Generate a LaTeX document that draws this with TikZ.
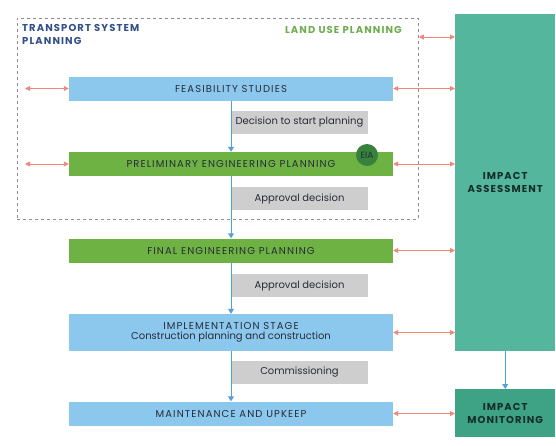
\documentclass[tikz,border=0pt]{standalone}
\usepackage{fontspec}
\setmainfont{Poppins}
\newfontfamily\capsfont[LetterSpace=11]{Poppins}
\usetikzlibrary{arrows.meta}
\definecolor{lblue}{RGB}{140,200,238}
\definecolor{lgreen}{RGB}{110,178,68}
\definecolor{dgreen}{RGB}{55,130,60}
\definecolor{lgray}{RGB}{206,206,206}
\definecolor{teal1}{RGB}{84,182,156}
\definecolor{teal2}{RGB}{62,162,132}
\definecolor{redarr}{RGB}{240,135,125}
\definecolor{bline}{RGB}{85,160,215}
\definecolor{tspblue}{RGB}{50,80,135}
\definecolor{lugreen}{RGB}{110,172,80}
\definecolor{txt}{RGB}{40,44,55}
\tikzset{
  stage/.style={draw=none,minimum width=324pt,minimum height=24pt,inner sep=0pt,font=\capsfont\fontsize{10}{12}\selectfont,text=txt,align=center},
  decision/.style={fill=lgray,draw=none,minimum width=137pt,minimum height=23pt,inner sep=0pt,font=\fontsize{10}{12}\selectfont,text=txt},
  impact/.style={draw=none,minimum width=100pt,inner sep=0pt,font=\capsfont\bfseries\fontsize{10}{13}\selectfont,text={rgb,255:red,20;green,45;blue,40},align=center},
  redlink/.style={draw=redarr,line width=0.9pt,{Triangle[length=5pt,width=5pt]}-{Triangle[length=5pt,width=5pt]}},
  bluelink/.style={draw=bline,line width=1pt,-{Triangle[length=5pt,width=6pt]}}
}
\begin{document}
\begin{tikzpicture}[x=1pt,y=-1pt]
\useasboundingbox (0,0) rectangle (556,445);
% dashed planning frame
\node[draw={rgb,255:red,140;green,140;blue,140},dashed,line width=0.8pt,minimum width=401pt,minimum height=201pt,inner sep=0pt,anchor=north west] (frame) at (17,18) {};
\node[anchor=north west,align=left,text=tspblue,font=\capsfont\bfseries\fontsize{10}{13.5}\selectfont,inner sep=0pt] (tsp) at (22,24) {TRANSPORT SYSTEM\\PLANNING};
\node[anchor=north east,text=lugreen,font=\capsfont\bfseries\fontsize{10}{12}\selectfont,inner sep=0pt] (lup) at (402,26) {LAND USE PLANNING};
% impact boxes
\node[impact,fill=teal1,minimum height=337pt,anchor=north west] (ia) at (455,14) {IMPACT\\ASSESSMENT};
\node[impact,fill=teal2,minimum height=48pt,anchor=north west] (im) at (455,389) {IMPACT\\MONITORING};
% stages
\node[stage,fill=lblue] (feas) at (231,88.5) {FEASIBILITY STUDIES};
\node[decision] (d1) at (299.5,122) {Decision to start planning};
\node[stage,fill=lgreen] (prel) at (231,164) {PRELIMINARY ENGINEERING PLANNING};
\node[circle,fill=dgreen,minimum size=22pt,inner sep=0pt,font=\fontsize{9}{10}\selectfont,text=txt] (eia) at (367,155) {EIA};
\node[decision] (d2) at (299.5,198.5) {Approval decision};
\node[stage,fill=lgreen] (fin) at (231,250.5) {FINAL ENGINEERING PLANNING};
\node[decision] (d3) at (299.5,285.5) {Approval decision};
\node[stage,fill=lblue,minimum height=37pt] (impl) at (231,332.5) {IMPLEMENTATION STAGE\\[-1.5pt]\normalfont\fontsize{10}{12}\selectfont Construction planning and construction};
\node[decision] (d4) at (299.5,372) {Commissioning};
\node[stage,fill=lblue] (maint) at (231,413.5) {MAINTENANCE AND UPKEEP};
% flow
\draw[bluelink] (feas) -- (prel);
\draw[bluelink] (prel) -- (fin);
\draw[bluelink] (fin) -- (impl);
\draw[bluelink] (impl) -- (maint);
\draw[bluelink] (ia) -- (im);
% red links right
\coordinate (fr) at (frame.east |- 0,37);
\draw[redlink] (fr) -- (ia.west |- fr);
\draw[redlink] (feas.east) -- (ia.west |- feas.east);
\draw[redlink] (prel.east) -- (ia.west |- prel.east);
\draw[redlink] (fin.east) -- (ia.west |- fin.east);
\draw[redlink] (impl.east) -- (ia.west |- impl.east);
\draw[redlink] (maint.east) -- (im.west |- maint.east);
% red links left
\coordinate (lf) at (25,88.5);
\coordinate (lp) at (25,164);
\draw[redlink] (lf) -- (feas.west);
\draw[redlink] (lp) -- (prel.west);
\end{tikzpicture}
\end{document}
